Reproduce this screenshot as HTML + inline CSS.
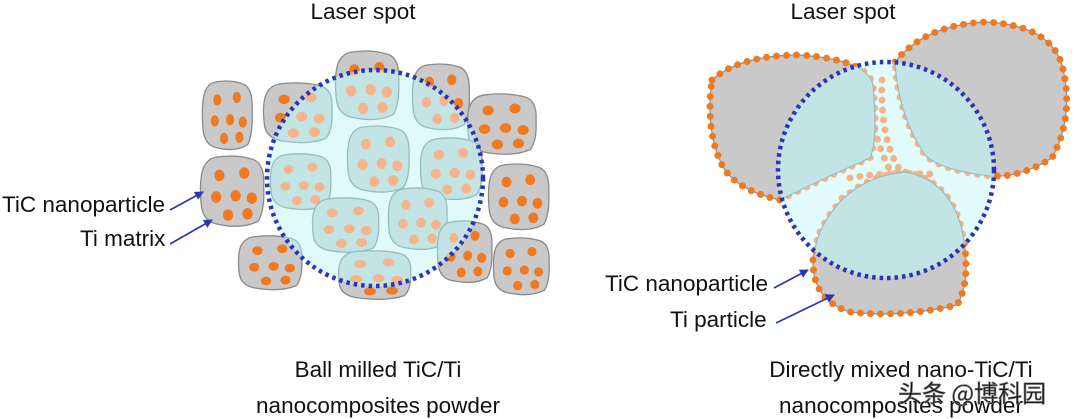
<!DOCTYPE html>
<html><head><meta charset="utf-8"><style>
html,body{margin:0;padding:0;background:#fff;}
svg{display:block}
text{font-family:"Liberation Sans","Noto Sans CJK SC",sans-serif;fill:#111}
</style></head><body>
<svg width="1080" height="419" viewBox="0 0 1080 419" xmlns="http://www.w3.org/2000/svg">
<defs>
<g id="dots" fill="currentColor" stroke="none">
<circle cx="18" cy="17" r="4.8"/><circle cx="41" cy="15" r="4.8"/>
<circle cx="15" cy="35" r="4.8"/><circle cx="33" cy="34" r="4.8"/><circle cx="48" cy="36" r="4.8"/>
<circle cx="26" cy="50" r="4.8"/><circle cx="44" cy="49" r="4.8"/>
</g>
<g id="blob"><path d="M14,2 Q34,-1 50,4 Q60,8 59,26 Q60,46 54,55 Q40,62 18,58 Q2,56 1,40 Q-1,18 4,9 Q8,3 14,2Z" vector-effect="non-scaling-stroke" stroke-width="1.3"/><use href="#dots"/></g>
<g id="L">
<use href="#blob" transform="translate(202,80) scale(0.85,1.17)"/>
<use href="#blob" transform="translate(263,82) scale(1.17,1.02)"/>
<use href="#blob" transform="translate(335,50) scale(1.08,1.17)"/>
<use href="#blob" transform="translate(412,63) scale(0.97,1.12)"/>
<use href="#blob" transform="translate(467,93) scale(1.17,1.03)"/>
<use href="#blob" transform="translate(200,155) scale(1.08,1.2)"/>
<use href="#blob" transform="translate(270,153) scale(1.03,0.95)"/>
<use href="#blob" transform="translate(347,125) scale(1.05,1.13)"/>
<use href="#blob" transform="translate(420,137) scale(1.05,1.05)"/>
<use href="#blob" transform="translate(488,163) scale(1.03,1.12)"/>
<use href="#blob" transform="translate(312,197) scale(1.13,0.93)"/>
<use href="#blob" transform="translate(388,187) scale(1.0,1.05)"/>
<use href="#blob" transform="translate(238,235) scale(1.08,0.92)"/>
<use href="#blob" transform="translate(437,220) scale(0.93,1.05)"/>
<use href="#blob" transform="translate(493,237) scale(0.95,0.97)"/>
<use href="#blob" transform="translate(338,250) scale(1.23,0.83)"/>
</g>
<clipPath id="cl"><circle cx="375" cy="178" r="108"/></clipPath>
<clipPath id="cr"><circle cx="886" cy="170" r="108"/></clipPath>
<path id="p1" d="M712,80 Q740,55 800,55 Q868,60 873,85 Q878,140 870,158 Q820,180 780,200 Q735,190 722,165 Q705,130 712,80Z"/>
<path id="p2" d="M895,62 Q925,25 985,22 Q1050,25 1062,65 Q1075,115 1052,158 Q1020,178 990,176 Q940,170 925,155 Q898,115 895,62Z"/>
<path id="p3" d="M820,232 Q845,178 905,172 Q950,180 962,230 Q972,280 957,305 Q900,318 850,312 Q812,300 813,260 Q815,245 820,232Z"/>
<marker id="ah" markerWidth="9" markerHeight="9" refX="8" refY="4.5" orient="auto" markerUnits="userSpaceOnUse"><path d="M0,0 L9,4.5 L0,9 Z" fill="#2a35b5"/></marker>
</defs>

<use href="#L" fill="#c9c9c9" stroke="#8a8a8a" color="#f07a22"/>
<g clip-path="url(#cl)">
<circle cx="375" cy="178" r="108" fill="#e0fafa"/>
<use href="#L" fill="#c2e4e4" stroke="#98bcbc" color="#f5b48c"/>
</g>
<circle cx="375" cy="178" r="108" fill="none" stroke="#2a35b5" stroke-width="4.5" stroke-dasharray="3.5 4"/>

<g fill="#c9c9c9" stroke="#8f8f8f" stroke-width="1.2">
<use href="#p1"/><use href="#p2"/><use href="#p3"/>
</g>
<g stroke="#f07a22" stroke-width="7" stroke-linecap="round" stroke-dasharray="0 10" fill="none">
<use href="#p1"/><use href="#p2"/><use href="#p3"/>
</g>
<g clip-path="url(#cr)">
<circle cx="886" cy="170" r="108" fill="#e2fbfb"/>
<g stroke="#f3b48d" stroke-width="7" stroke-linecap="round" stroke-dasharray="0 10" fill="none">
<use href="#p1"/><use href="#p2"/><use href="#p3"/>
<path d="M882,80 Q880,140 900,170 M872,120 Q882,160 895,178 M850,178 Q880,172 930,174 M928,182 Q948,202 957,240 M842,198 Q822,230 817,270"/>
</g>
<g fill="#c2e4e4" stroke="#98bcbc" stroke-width="1.2">
<use href="#p1"/><use href="#p2"/><use href="#p3"/>
</g>
</g>
<circle cx="886" cy="170" r="108" fill="none" stroke="#2a35b5" stroke-width="4.5" stroke-dasharray="3.5 4"/>

<g font-size="22.5">
<text x="363" y="19" text-anchor="middle">Laser spot</text>
<text x="843" y="19" text-anchor="middle">Laser spot</text>
<text x="2" y="212">TiC nanoparticle</text>
<text x="80" y="246">Ti matrix</text>
<text x="605" y="291">TiC nanoparticle</text>
<text x="670" y="327">Ti particle</text>
<text x="378" y="377" text-anchor="middle">Ball milled TiC/Ti</text>
<text x="378" y="413" text-anchor="middle">nanocomposites powder</text>
<text x="901" y="377" text-anchor="middle">Directly mixed nano-TiC/Ti</text>
<text x="901" y="413" text-anchor="middle">nanocomposites powder</text>
</g>
<g stroke="#2a35b5" stroke-width="1.6" fill="none" marker-end="url(#ah)">
<path d="M170,210 L203,192"/>
<path d="M170,244 L212,220"/>
<path d="M774,288 L808,270"/>
<path d="M776,323 L834,295"/>
</g>
<text x="898" y="402" font-size="24" fill="#fff" stroke="#777" stroke-width="0.7" style="font-family:'Noto Sans CJK SC',sans-serif">头条 @博科园</text>
</svg>
</body></html>
